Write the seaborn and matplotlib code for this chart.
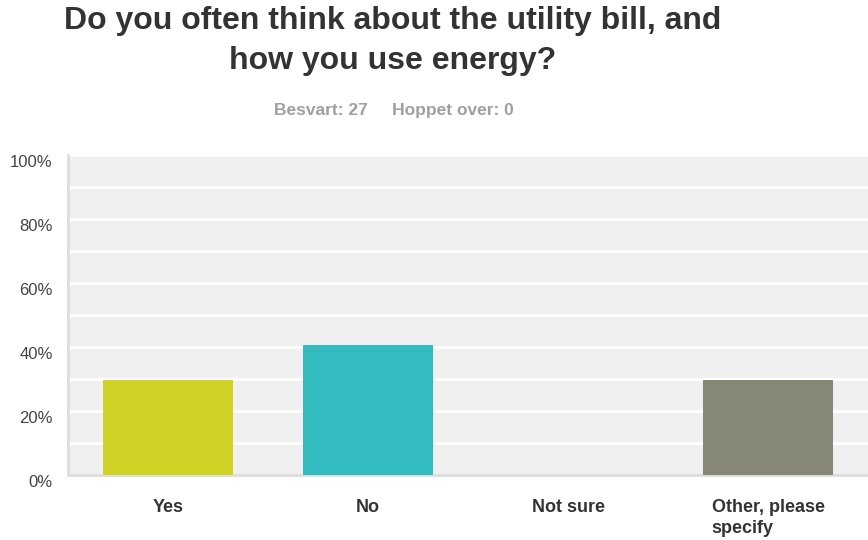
import matplotlib
matplotlib.use("Agg")
import matplotlib.pyplot as plt
import seaborn as sns
import pandas as pd

categories = ["Yes", "No", "Not sure", "Other, please\nspecify"]
values = [29.63, 40.74, 0.0, 29.63]
colors = ["#D0D326", "#33BCBF", "#A0A0A0", "#878776"]
yticks = [0, 20, 40, 60, 80, 100]
ytick_labels = ["0%", "20%", "40%", "60%", "80%", "100%"]
title = "Do you often think about the utility bill, and\nhow you use energy?"
subtitle = "Besvart: 27     Hoppet over: 0"

sns.set_theme(style="white")
plt.rcParams['font.family'] = ['Liberation Sans', 'DejaVu Sans']

df = pd.DataFrame({"cat": categories, "val": values})

fig = plt.figure(figsize=(8.68, 5.40), dpi=100)
ax = fig.add_axes([68/868, 1-475/540, 1-68/868, 320/540])
ax.set_facecolor("#F0F0F0")

sns.barplot(data=df, x="cat", y="val", hue="cat", palette=colors, legend=False,
            width=0.65, saturation=1, linewidth=0, edgecolor="none", ax=ax, zorder=3)

ax.set_ylim(0, 100)
ax.set_xlim(-0.5, 3.5)
ax.set_axisbelow(True)
ax.set_yticks(yticks)
ax.set_yticks(range(0, 101, 10), minor=True)
ax.grid(axis="y", which="both", color="white", linewidth=2)
ax.set_yticklabels(ytick_labels, fontsize=12, color="#444444", va="top")
ax.tick_params(axis="y", which="both", length=0, pad=11)
ax.tick_params(axis="x", length=0, pad=17)
for lbl in ax.get_xticklabels():
    lbl.set_fontweight("bold")
    lbl.set_fontsize(13)
    lbl.set_color("#333333")
    lbl.set_multialignment("left")
    lbl.set_linespacing(1.3)
ax.set_xlabel("")
ax.set_ylabel("")

for s in ["top", "right"]:
    ax.spines[s].set_visible(False)
ax.spines["left"].set_color("#DDDDDD")
ax.spines["left"].set_linewidth(2)
ax.spines["bottom"].set_color("#DDDDDD")
ax.spines["bottom"].set_linewidth(2)

fig.text(393/868, 1-41/540, title, ha="center", va="center", fontsize=23,
         fontweight="bold", color="#333333", linespacing=1.45)
fig.text(394/868, 1-110/540, subtitle, ha="center", va="center", fontsize=12.5,
         fontweight="bold", color="#A0A0A0")

fig.savefig("out.png", dpi=100)
